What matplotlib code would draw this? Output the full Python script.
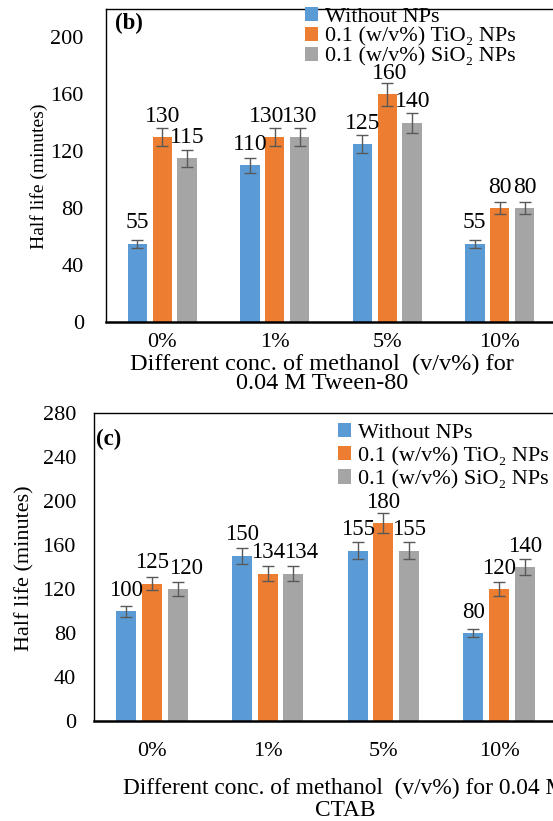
import numpy as np
import matplotlib
matplotlib.use("Agg")
import matplotlib.pyplot as plt

categories = ["0%", "1%", "5%", "10%"]
series_names = ["Without NPs", "0.1 (w/v%) TiO\u2082 NPs", "0.1 (w/v%) SiO\u2082 NPs"]

# (b) 0.04 M Tween-80
tween_without = [55, 110, 125, 55]
tween_tio2 = [130, 130, 160, 80]
tween_sio2 = [115, 130, 140, 80]
tween_err_without = [2.75, 5.5, 6.25, 2.75]
tween_err_tio2 = [6.5, 6.5, 8.0, 4.0]
tween_err_sio2 = [5.75, 6.5, 7.0, 4.0]

# (c) 0.04 M CTAB
ctab_without = [100, 150, 155, 80]
ctab_tio2 = [125, 134, 180, 120]
ctab_sio2 = [120, 134, 155, 140]
ctab_err_without = [5.0, 7.5, 7.75, 4.0]
ctab_err_tio2 = [6.25, 6.7, 9.0, 6.0]
ctab_err_sio2 = [6.0, 6.7, 7.75, 7.0]

colors = ["#5B9BD5", "#ED7D31", "#A5A5A5"]
serif = ["Liberation Serif", "DejaVu Serif"]
plt.rcParams["font.family"] = serif

W, H = 553, 821
fig = plt.figure(figsize=(W / 100, H / 100), dpi=100)


def px_axes(left, top, right, bottom):
    return fig.add_axes([left / W, 1 - bottom / H, (right - left) / W, (bottom - top) / H])


def panel(ax, values, errors, ymax, ystep, fs, label_shift):
    x = np.arange(len(categories))
    offs = [-0.222, 0, 0.222]
    for i in range(3):
        ax.bar(x + offs[i], values[i], width=0.173, color=colors[i],
               label=series_names[i], zorder=2)
        ax.errorbar(x + offs[i], values[i], yerr=errors[i], fmt="none",
                    ecolor="#595959", elinewidth=1, capsize=4, capthick=1, zorder=3)
        for j, v in enumerate(values[i]):
            dx = label_shift.get((i, j), 0)
            ax.annotate(str(v), (x[j] + offs[i], v), xytext=(dx, 21),
                        textcoords="offset pixels", ha="center", va="center",
                        fontsize=fs, zorder=4)
    ax.set_xlim(-0.5, 3.5)
    ax.set_ylim(0, ymax)
    ax.set_yticks(np.arange(0, ymax + 1, ystep))
    ax.set_xticks(x)
    ax.set_xticklabels(categories)
    for s in ax.spines.values():
        s.set_linewidth(1)
        s.set_color("black")
    ax.spines["bottom"].set_linewidth(1.8)


# top panel (b)
ax1 = px_axes(106, 9, 556, 322)
panel(ax1, [tween_without, tween_tio2, tween_sio2],
      [tween_err_without, tween_err_tio2, tween_err_sio2],
      220, 40, 17, {(1, 1): -8, (1, 2): 2})
ax1.set_yticks(np.arange(0, 201, 40))
ax1.text(0.02, 0.955, "(b)", transform=ax1.transAxes, fontsize=16.5,
         fontweight="bold", ha="left", va="center")
ax1.tick_params(axis="y", length=0, pad=16, labelsize=16)
ax1.tick_params(axis="x", length=0, pad=8, labelsize=16)
ax1.legend(loc="upper left", bbox_to_anchor=(305 / W, 1 - 7 / H),
           bbox_transform=fig.transFigure, frameon=False, fontsize=16,
           handlelength=0.6, handleheight=0.6, handletextpad=0.3,
           borderpad=0, borderaxespad=0, labelspacing=0.0)
fig.text(322 / W, 1 - 374 / H,
         "Different conc. of methanol  (v/v%) for\n0.04 M Tween-80",
         ha="center", va="center", fontsize=17.5, linespacing=0.92)
fig.text(39 / W, 1 - 176 / H, "Half life (minutes)", rotation=90,
         ha="center", va="center", fontsize=14)

# bottom panel (c)
ax2 = px_axes(94, 413, 557, 721)
panel(ax2, [ctab_without, ctab_tio2, ctab_sio2],
      [ctab_err_without, ctab_err_tio2, ctab_err_sio2],
      280, 40, 16.5, {(2, 0): 8, (2, 1): 8})
ax2.text(0.005, 0.915, "(c)", transform=ax2.transAxes, fontsize=16.5,
         fontweight="bold", ha="left", va="center")
ax2.tick_params(axis="y", length=0, pad=13, labelsize=16)
ax2.tick_params(axis="x", length=0, pad=15, labelsize=16)
ax2.legend(loc="upper left", bbox_to_anchor=(338 / W, 1 - 423 / H),
           bbox_transform=fig.transFigure, frameon=False, fontsize=16,
           handlelength=0.6, handleheight=0.6, handletextpad=0.3,
           borderpad=0, borderaxespad=0, labelspacing=0.15)
fig.text(345 / W, 1 - 799.5 / H,
         "Different conc. of methanol  (v/v%) for 0.04 M\nCTAB",
         ha="center", va="center", fontsize=16.8, linespacing=1.05)
fig.text(25 / W, 1 - 568 / H, "Half life (minutes)", rotation=90,
         ha="center", va="center", fontsize=16)

fig.savefig("out.png", dpi=100)
